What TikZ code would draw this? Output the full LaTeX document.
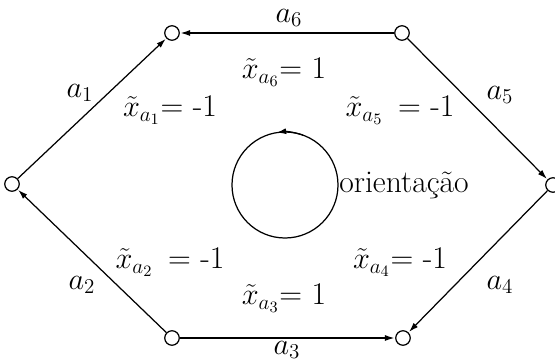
\documentclass[tikz,border=0pt]{standalone}
\usetikzlibrary{arrows.meta}

\begin{document}
\begin{tikzpicture}[x=0.02cm, y=0.02cm, >={Latex[length=1.9mm, width=1.2mm]},
  font=\fontsize{18}{21}\selectfont,
  V/.style={draw, circle, inner sep=0pt, minimum size=0.29cm, line width=0.7pt},
  E/.style={->, line width=0.7pt, shorten >=0.4pt}]

\useasboundingbox (0,0) rectangle (555,362);

% vertices of the hexagon
\node[V] (vl)  at (12,178)  {};
\node[V] (vtl) at (172,329) {};
\node[V] (vtr) at (402,329) {};
\node[V] (vr)  at (553,177) {};
\node[V] (vbl) at (172,24)  {};
\node[V] (vbr) at (403,24)  {};

% arcs
\draw[E] (vl)  -- (vtl);
\draw[E] (vtr) -- (vtl);
\draw[E] (vtr) -- (vr);
\draw[E] (vr)  -- (vbr);
\draw[E] (vbl) -- (vbr);
\draw[E] (vbl) -- (vl);

% arc names
\node (n1) at (80,269)  {$a_1$};
\node[anchor=south, inner sep=0pt] (n6) at (289,335) {$a_6$};
\node (n5) at (500,267) {$a_5$};
\node (n4) at (500,77)  {$a_4$};
\node[anchor=north, inner sep=0pt] (n3) at (287,21) {$a_3$};
\node (n2) at (82,77)   {$a_2$};

% values
\node (x1) at (170,252) {$\tilde{x}_{a_1}$= -1};
\node (x6) at (284,290) {$\tilde{x}_{a_6}$= 1};
\node (x5) at (400,252) {$\tilde{x}_{a_5}$\, = -1};
\node (x2) at (170,100) {$\tilde{x}_{a_2}$\, = -1};
\node (x3) at (284,64)  {$\tilde{x}_{a_3}$= 1};
\node (x4) at (400,100) {$\tilde{x}_{a_4}$= -1};

% orientation
\coordinate (oc) at (285,177);
\draw[line width=0.7pt] (oc) circle (53);
\draw[->, line width=0.7pt] (oc) ++(70:53) arc (70:99:53);
\node[anchor=base west, inner sep=0pt] (or) at (339,169) {orienta\c{c}\~ao};

\end{tikzpicture}
\end{document}
